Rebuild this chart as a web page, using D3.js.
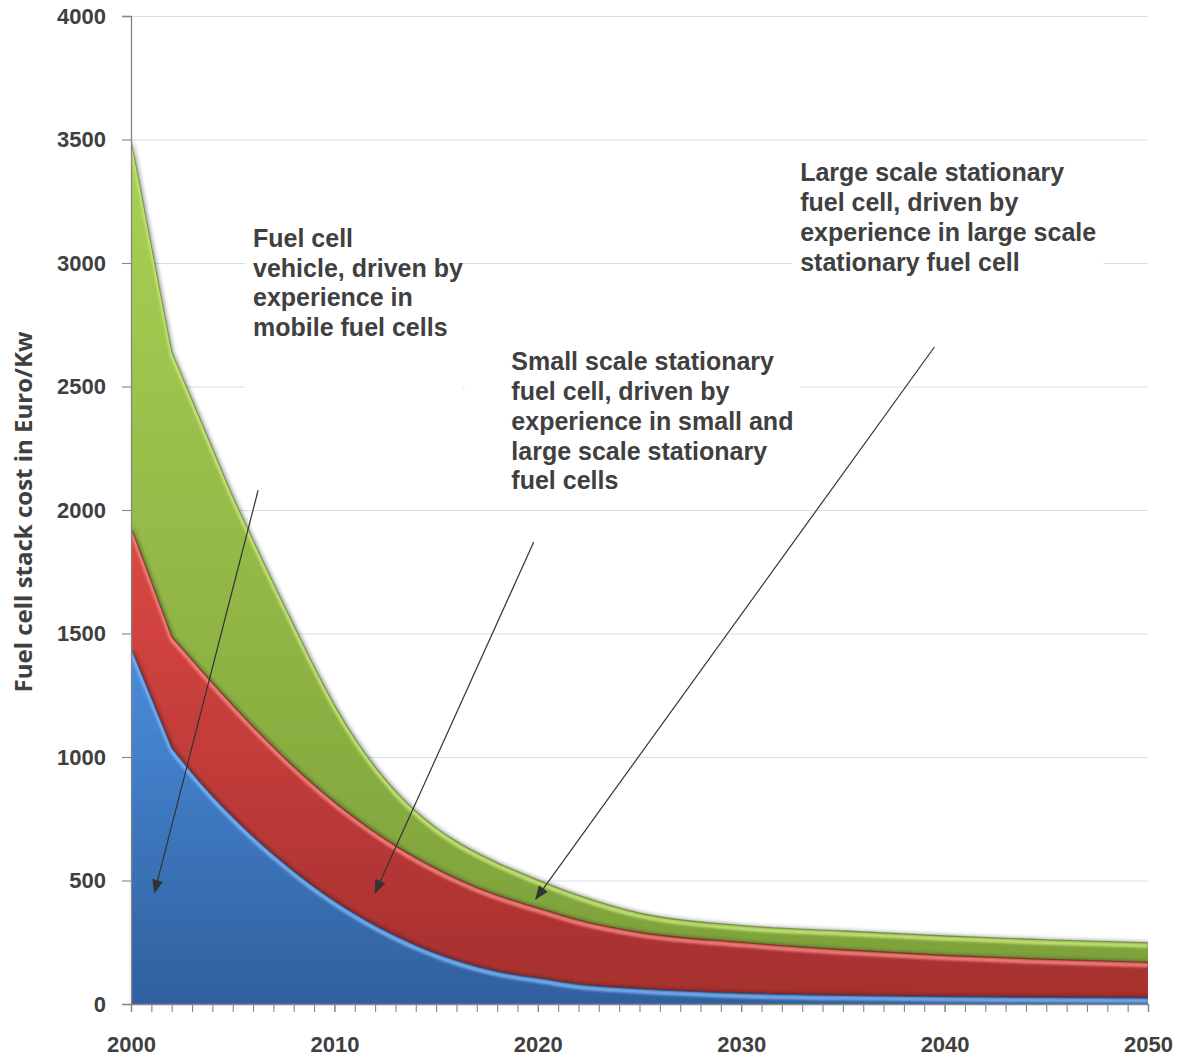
<!DOCTYPE html>
<html>
<head>
<meta charset="utf-8">
<script src="https://cdn.jsdelivr.net/npm/d3@7"></script>
<style>
  html, body { margin: 0; padding: 0; background: #fff; }
  svg { display: block; }
</style>
</head>
<body>
<svg id="chart" width="1178" height="1056"></svg>
<script>
// Fuel cell stack cost projections (Euro/kW), 2000-2050
const years = [2000, 2002, 2003, 2004, 2005, 2006, 2007, 2008, 2009, 2010,
               2011, 2012, 2013, 2014, 2015, 2016, 2017, 2018, 2019, 2020,
               2022, 2025, 2030, 2035, 2040, 2045, 2050];

// Large scale stationary fuel cell
const largeStationary = [3500, 2640, 2445, 2250, 2055, 1878, 1703, 1533, 1366, 1210,
                         1075, 960, 862, 780, 713, 658, 612, 572, 536, 502,
                         440, 368, 318, 296, 276, 260, 248];

// Small scale stationary fuel cell
const smallStationary = [1930, 1487, 1393, 1300, 1210, 1123, 1040, 961, 887, 818,
                         754, 695, 641, 592, 548, 508, 472, 441, 414, 389,
                         340, 290, 250, 220, 197, 181, 169];

// Fuel cell vehicle
const vehicle = [1440, 1036, 935, 842, 757, 678, 605, 537, 474, 417,
                 365, 318, 276, 238, 205, 176, 152, 132, 117, 105,
                 80, 62, 44, 35, 30, 27, 25];

const yTicks = [0, 500, 1000, 1500, 2000, 2500, 3000, 3500, 4000];
const xTicks = [2000, 2010, 2020, 2030, 2040, 2050];
const yearTicks = d3.range(2000, 2051);

const yTitle = "Fuel cell stack cost in Euro/Kw";

const notes = [
  { lines: ["Fuel cell", "vehicle, driven by", "experience in", "mobile fuel cells"],
    at: [2006.0, 3065], box: [2005.6, 3180, 2016.3, 2480],
    from: [2006.25, 2080], to: [2001.15, 450] },
  { lines: ["Small scale stationary", "fuel cell, driven by", "experience in small and",
            "large scale stationary", "fuel cells"],
    at: [2018.7, 2565], box: [2016.4, 2670, 2032.9, 2040],
    from: [2019.8, 1870], to: [2012.0, 450] },
  { lines: ["Large scale stationary", "fuel cell, driven by",
            "experience in large scale", "stationary fuel cell"],
    at: [2032.9, 3330], box: [2032.5, 3450, 2047.8, 2935],
    from: [2039.5, 2660], to: [2019.9, 425] }
];

const plot = { left: 131, right: 1148, top: 16, bottom: 1004 };

const svg = d3.select("#chart");
const x = d3.scaleLinear().domain([2000, 2050]).range([plot.left, plot.right]);
const y = d3.scaleLinear().domain([0, 4000]).range([plot.bottom, plot.top]);

const textColor = "#404040";
const defs = svg.append("defs");

// Series drawn back to front, each with a bevel-like shading
const series = [
  { name: "large", values: largeStationary, top: "#a9d154", bottom: "#7c9f39",
    hi: "#c8ea7e", edge: "#5f7f2a" },
  { name: "small", values: smallStationary, top: "#dc4844", bottom: "#a52f2e",
    hi: "#f48a86", edge: "#7a2220" },
  { name: "vehicle", values: vehicle, top: "#4a8ddc", bottom: "#30609e",
    hi: "#7fb6f4", edge: "#234a7c" }
];

series.forEach(s => {
  const g = defs.append("linearGradient").attr("id", "grad-" + s.name)
    .attr("x1", 0).attr("y1", 0).attr("x2", 0).attr("y2", 1);
  g.append("stop").attr("offset", "0%").attr("stop-color", s.top);
  g.append("stop").attr("offset", "100%").attr("stop-color", s.bottom);
});

const shadow = defs.append("filter").attr("id", "shadow")
  .attr("x", "-5%").attr("y", "-5%").attr("width", "110%").attr("height", "110%");
shadow.append("feDropShadow").attr("dx", 1.5).attr("dy", -0.5)
  .attr("stdDeviation", 2).attr("flood-color", "#000").attr("flood-opacity", 0.45);

const soft = defs.append("filter").attr("id", "soft")
  .attr("x", "-5%").attr("y", "-5%").attr("width", "110%").attr("height", "110%");
soft.append("feGaussianBlur").attr("stdDeviation", 1.3);

defs.append("marker").attr("id", "arrow")
  .attr("viewBox", "0 0 14 11").attr("refX", 13).attr("refY", 5.5)
  .attr("markerWidth", 14).attr("markerHeight", 11)
  .attr("markerUnits", "userSpaceOnUse").attr("orient", "auto")
  .append("path").attr("d", "M0,0 L14,5.5 L0,11 Z").attr("fill", "#333");

// Gridlines
svg.append("g").selectAll("line").data(yTicks.filter(d => d > 0)).join("line")
  .attr("x1", plot.left).attr("x2", plot.right)
  .attr("y1", d => y(d) + 0.5).attr("y2", d => y(d) + 0.5)
  .attr("stroke", "#d5def0").attr("stroke-width", 1.2);

// White boxes behind the annotation text
svg.append("g").selectAll("rect").data(notes).join("rect")
  .attr("x", d => x(d.box[0])).attr("y", d => y(d.box[1]))
  .attr("width", d => x(d.box[2]) - x(d.box[0]))
  .attr("height", d => y(d.box[3]) - y(d.box[1]))
  .attr("fill", "#fff");

// Top edge: straight first segment, smooth monotone curve afterwards
const smooth = d3.line().x(d => x(d[0])).y(d => y(d[1])).curve(d3.curveMonotoneX);
function topPath(values) {
  const pts = years.map((yr, i) => [yr, values[i]]);
  const rest = smooth(pts.slice(1));
  return `M${x(pts[0][0])},${y(pts[0][1])}L` + rest.slice(1);
}
function areaPath(values) {
  return topPath(values) +
    `L${x(years[years.length - 1])},${y(0)}L${x(years[0])},${y(0)}Z`;
}

defs.append("clipPath").attr("id", "plotclip").append("rect")
  .attr("x", plot.left).attr("y", plot.top)
  .attr("width", plot.right - plot.left).attr("height", plot.bottom - plot.top);

const areas = svg.append("g").attr("clip-path", "url(#plotclip)");
series.forEach(s => {
  defs.append("clipPath").attr("id", "clip-" + s.name)
    .append("path").attr("d", areaPath(s.values));
  const g = areas.append("g");
  g.append("path").attr("d", areaPath(s.values))
    .attr("fill", "url(#grad-" + s.name + ")").attr("filter", "url(#shadow)");
  g.append("g").attr("clip-path", "url(#clip-" + s.name + ")")
    .append("path").attr("d", topPath(s.values))
    .attr("transform", "translate(0,3)")
    .attr("fill", "none").attr("stroke", s.hi).attr("stroke-width", 4)
    .attr("stroke-opacity", 0.85).attr("filter", "url(#soft)");
  g.append("path").attr("d", topPath(s.values))
    .attr("fill", "none").attr("stroke", s.edge).attr("stroke-width", 1.1)
    .attr("stroke-opacity", 0.7);
});

// Axes
const axisColor = "#868686";
const yAxis = svg.append("g").attr("transform", `translate(${plot.left},0)`)
  .call(d3.axisLeft(y).tickValues(yTicks).tickSize(9).tickPadding(16)
    .tickFormat(d3.format("d")));
const xMinor = svg.append("g").attr("transform", `translate(0,${plot.bottom})`)
  .call(d3.axisBottom(x).tickValues(yearTicks).tickSize(8).tickFormat(""));
const xAxis = svg.append("g").attr("transform", `translate(0,${plot.bottom})`)
  .call(d3.axisBottom(x).tickValues(xTicks).tickSize(8).tickPadding(24)
    .tickFormat(d3.format("d")));

[yAxis, xMinor, xAxis].forEach(a => {
  a.select(".domain").attr("stroke", axisColor).attr("stroke-width", 1.3);
  a.selectAll(".tick line").attr("stroke", axisColor).attr("stroke-width", 1.1);
  a.selectAll("text").attr("fill", textColor)
    .style("font-family", "'Liberation Sans', Arial, sans-serif")
    .style("font-weight", "bold").style("font-size", "22px");
});
xMinor.select(".domain").remove();

// Axis title
svg.append("text")
  .attr("transform", `translate(32,${(plot.top + plot.bottom) / 2 + 2}) rotate(-90)`)
  .attr("text-anchor", "middle")
  .attr("fill", textColor)
  .style("font-family", "'Open Sans', 'DejaVu Sans', sans-serif")
  .style("font-weight", 700).style("font-size", "24px")
  .text(yTitle);

// Arrows
svg.append("g").selectAll("line").data(notes).join("line")
  .attr("x1", d => x(d.from[0])).attr("y1", d => y(d.from[1]))
  .attr("x2", d => x(d.to[0])).attr("y2", d => y(d.to[1]))
  .attr("stroke", "#333").attr("stroke-width", 1.2)
  .attr("marker-end", "url(#arrow)");

// Annotation text
const lineH = 29.7;
svg.append("g").selectAll("text").data(notes).join("text")
  .attr("x", d => x(d.at[0])).attr("y", d => y(d.at[1]))
  .attr("fill", textColor)
  .style("font-family", "'Liberation Sans', Arial, sans-serif")
  .style("font-weight", "bold").style("font-size", "25px")
  .selectAll("tspan").data(d => d.lines.map(l => ({ l, x: x(d.at[0]) }))).join("tspan")
  .attr("x", d => d.x).attr("dy", (d, i) => i === 0 ? 0 : lineH)
  .text(d => d.l);
</script>
</body>
</html>
